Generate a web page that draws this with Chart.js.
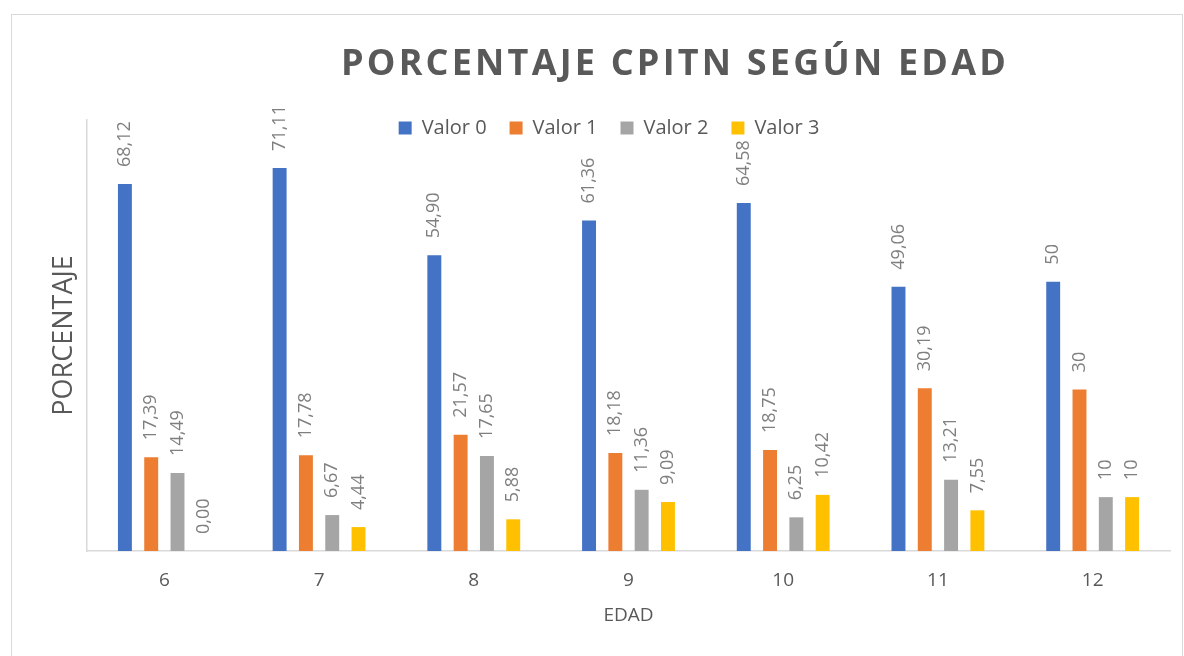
<!DOCTYPE html>
<html lang="es">
  <head>
    <meta charset="UTF-8" />
    <title>Porcentaje CPITN según edad</title>
    <script src="https://cdn.jsdelivr.net/npm/chart.js@4.4.1/dist/chart.umd.min.js"></script>
    <style>
      body { margin: 0; background: #fff; }
      #marco {
        position: absolute; left: 11px; top: 14px; width: 1172px; height: 700px;
        border: 1px solid #d9d9d9; box-sizing: border-box;
      }
      #grafico { position: absolute; left: 0; top: 0; }
    </style>
  </head>
  <body>
    <div id="marco"></div>
    <canvas id="grafico" width="1184" height="656"></canvas>

    <script>
      // datos
      const edades = ["6", "7", "8", "9", "10", "11", "12"];
      const valor0 = [68.12, 71.11, 54.9, 61.36, 64.58, 49.06, 50];
      const valor1 = [17.39, 17.78, 21.57, 18.18, 18.75, 30.19, 30];
      const valor2 = [14.49, 6.67, 17.65, 11.36, 6.25, 13.21, 10];
      const valor3 = [0, 4.44, 5.88, 9.09, 10.42, 7.55, 10];
      const decimales = [2, 2, 2, 2, 2, 2, 0];

      const titulo = "PORCENTAJE CPITN SEGÚN EDAD";

      Chart.defaults.font.family = "'Open Sans', sans-serif";
      Chart.defaults.color = "#595959";

      function etiqueta(v, i) {
        return v.toFixed(decimales[i]).replace(".", ",");
      }

      // titulo con espaciado entre letras
      const tituloPlugin = {
        id: "tituloPlugin",
        afterDraw(chart) {
          const ctx = chart.ctx;
          ctx.save();
          ctx.font = "bold 36px 'Open Sans', sans-serif";
          ctx.fillStyle = "#595959";
          ctx.textAlign = "center";
          ctx.textBaseline = "alphabetic";
          ctx.letterSpacing = "3.2px";
          ctx.fillText(titulo, 675, 75);
          ctx.restore();
        },
      };

      // etiquetas verticales encima de cada barra
      const etiquetasPlugin = {
        id: "etiquetasPlugin",
        afterDatasetsDraw(chart) {
          const ctx = chart.ctx;
          ctx.save();
          ctx.font = "18px 'Open Sans', sans-serif";
          ctx.fillStyle = "#7f7f7f";
          ctx.textAlign = "left";
          ctx.textBaseline = "middle";
          chart.data.datasets.forEach((ds, d) => {
            chart.getDatasetMeta(d).data.forEach((bar, i) => {
              ctx.save();
              ctx.translate(bar.x, bar.y - 17);
              ctx.rotate(-Math.PI / 2);
              ctx.fillText(etiqueta(ds.data[i], i), 0, 0);
              ctx.restore();
            });
          });
          ctx.restore();
        },
      };

      // la leyenda se baja un poco, queda encima del area de barras
      const leyendaPlugin = {
        id: "leyendaPlugin",
        afterLayout(chart) {
          const l = chart.legend;
          if (!l) return;
          l.left += 24; l.right += 24;
          l.top = 95; l.bottom = 170;
        },
      };

      const ctx = document.getElementById("grafico").getContext("2d");
      new Chart(ctx, {
        type: "bar",
        data: {
          labels: edades,
          datasets: [
            { label: "Valor 0", data: valor0, backgroundColor: "#4472C4" },
            { label: "Valor 1", data: valor1, backgroundColor: "#ED7D31" },
            { label: "Valor 2", data: valor2, backgroundColor: "#A5A5A5" },
            { label: "Valor 3", data: valor3, backgroundColor: "#FFC000" },
          ],
        },
        options: {
          responsive: false,
          animation: false,
          categoryPercentage: 0.68,
          barPercentage: 0.53,
          layout: { padding: { top: 80, left: 0, right: 14, bottom: 0 } },
          plugins: {
            legend: {
              position: "top",
              align: "center",
              maxHeight: 40,
              labels: {
                boxWidth: 13,
                boxHeight: 13,
                padding: 23,
                color: "#595959",
                font: { size: 20 },
              },
            },
            tooltip: { enabled: false },
          },
          scales: {
            x: {
              grid: { display: false, drawTicks: false },
              border: { display: true, color: "#d9d9d9", width: 1.5 },
              ticks: { padding: 18, color: "#595959", font: { size: 19 } },
              title: {
                display: true,
                text: "EDAD",
                color: "#595959",
                font: { size: 19 },
                padding: { top: 0, bottom: 29 },
              },
              afterFit(scale) { scale.height = 105; },
            },
            y: {
              min: 0,
              max: 80,
              grid: { display: false, drawTicks: false },
              border: { display: true, color: "#d9d9d9", width: 1.5 },
              ticks: { display: false },
              title: {
                display: true,
                text: "PORCENTAJE",
                color: "#595959",
                font: { size: 27 },
                padding: { top: 48, bottom: 0 },
              },
              afterFit(scale) { scale.width = 87; },
            },
          },
        },
        plugins: [tituloPlugin, etiquetasPlugin, leyendaPlugin],
      });
    </script>
  </body>
</html>
